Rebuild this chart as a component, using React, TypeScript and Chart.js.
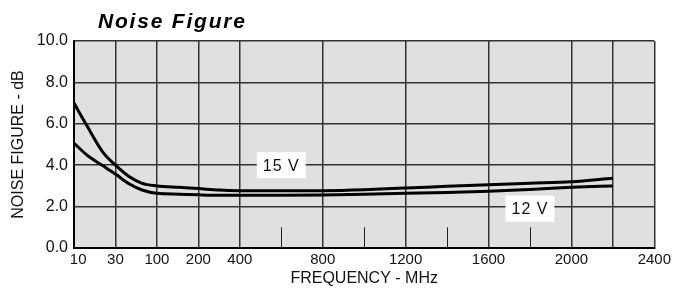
import React, { useEffect, useRef } from 'react';
import { Chart, registerables } from 'chart.js';

Chart.register(...registerables);

// ---- text ----
const chartTitle = 'Noise Figure';
const xAxisTitle = 'FREQUENCY - MHz';
const yAxisTitle = 'NOISE FIGURE - dB';

// ---- x axis definition (MHz) ----
const xBreakFreqs = [10, 30, 100, 200, 400]; // one division each
const linearStepMHz = 200; // beyond 400 MHz: 200 MHz per division
const xMaxFreq = 2400;
const xTickLabels = [10, 30, 100, 200, 400, 800, 1200, 1600, 2000, 2400];
const extraGridFreqs = [2200];
const shortMarkFreqs = [600, 1000, 1400, 1800];
const shortMarkTop = 1.0;

// ---- y axis ----
const yMin = 0;
const yMax = 10;
const yStep = 2;

// ---- series: 15 V ----
const freq15 = [10, 16, 24, 30, 53, 75, 100, 154, 200, 300, 400, 600, 800, 1000, 1200, 1400, 1600, 1800, 2000, 2200];
const nf15 = [7.0, 5.95, 4.62, 4.0, 3.45, 3.12, 3.0, 2.93, 2.87, 2.8, 2.77, 2.76, 2.77, 2.82, 2.9, 2.98, 3.06, 3.13, 3.2, 3.37];

// ---- series: 12 V ----
const freq12 = [10, 17, 24, 30, 53, 75, 100, 154, 200, 300, 400, 600, 800, 1000, 1200, 1400, 1600, 1800, 2000, 2200];
const nf12 = [5.06, 4.43, 3.97, 3.57, 3.1, 2.8, 2.64, 2.6, 2.57, 2.55, 2.55, 2.55, 2.56, 2.6, 2.64, 2.68, 2.74, 2.83, 2.93, 3.0];

// ---- curve labels ----
const curveLabels = ['15 V', '12 V'];
const curveLabelFreqs = [600, 1800];
const curveLabelNF = [4.0, 1.9];

function freqToPos(f: number): number {
  const n = xBreakFreqs.length;
  if (f >= xBreakFreqs[n - 1]) return n - 1 + (f - xBreakFreqs[n - 1]) / linearStepMHz;
  for (let i = 0; i < n - 1; i++) {
    if (f <= xBreakFreqs[i + 1]) {
      return i + (f - xBreakFreqs[i]) / (xBreakFreqs[i + 1] - xBreakFreqs[i]);
    }
  }
  return 0;
}
function posToFreq(p: number): number {
  const n = xBreakFreqs.length;
  if (p >= n - 1) return xBreakFreqs[n - 1] + (p - (n - 1)) * linearStepMHz;
  const i = Math.floor(p);
  return xBreakFreqs[i] + (p - i) * (xBreakFreqs[i + 1] - xBreakFreqs[i]);
}

const FONT = "'Liberation Sans', Arial, Helvetica, sans-serif";

const decorPlugin = {
  id: 'decor',
  beforeDraw(chart: any) {
    const { ctx, chartArea, width, height } = chart;
    ctx.save();
    ctx.fillStyle = '#ffffff';
    ctx.fillRect(0, 0, width, height);
    ctx.fillStyle = '#e0e0e0';
    ctx.fillRect(chartArea.left, chartArea.top, chartArea.right - chartArea.left, chartArea.bottom - chartArea.top);
    ctx.restore();
  },
  beforeDatasetsDraw(chart: any) {
    const { ctx } = chart;
    const xs = chart.scales.x;
    const ys = chart.scales.y;
    ctx.save();
    ctx.strokeStyle = '#222';
    ctx.lineWidth = 1;
    shortMarkFreqs.forEach((f) => {
      const px = Math.round(xs.getPixelForValue(freqToPos(f))) + 0.5;
      ctx.beginPath();
      ctx.moveTo(px, ys.getPixelForValue(yMin));
      ctx.lineTo(px, ys.getPixelForValue(shortMarkTop));
      ctx.stroke();
    });
    ctx.restore();
  },
  afterDatasetsDraw(chart: any) {
    const { ctx } = chart;
    const xs = chart.scales.x;
    const ys = chart.scales.y;
    ctx.save();
    ctx.font = `16px ${FONT}`;
    ctx.textAlign = 'center';
    ctx.textBaseline = 'middle';
    (ctx as any).letterSpacing = '1px';
    curveLabels.forEach((t, i) => {
      const cx = xs.getPixelForValue(freqToPos(curveLabelFreqs[i]));
      const cy = ys.getPixelForValue(curveLabelNF[i]);
      const w = ctx.measureText(t).width + 12;
      const h = 26;
      ctx.fillStyle = '#ffffff';
      ctx.fillRect(cx - w / 2, cy - h / 2, w, h);
      ctx.fillStyle = '#111';
      ctx.fillText(t, cx, cy + 1);
    });
    ctx.restore();
  },
  afterDraw(chart: any) {
    const { ctx, chartArea } = chart;
    ctx.save();
    ctx.font = `italic bold 21px ${FONT}`;
    (ctx as any).letterSpacing = '1.8px';
    ctx.fillStyle = '#000';
    ctx.textAlign = 'left';
    ctx.textBaseline = 'alphabetic';
    ctx.fillText(chartTitle, chartArea.left + 24, chartArea.top - 13);
    ctx.restore();
  },
};

export default function App() {
  const canvasRef = useRef<HTMLCanvasElement | null>(null);

  useEffect(() => {
    document.body.style.margin = '0';
    const canvas = canvasRef.current;
    if (!canvas) return;
    const gridColor = '#333333';
    const chart = new Chart(canvas, {
      type: 'line',
      data: {
        datasets: [
          {
            label: curveLabels[0],
            data: freq15.map((f, i) => ({ x: freqToPos(f), y: nf15[i] })),
            borderColor: '#000',
            borderWidth: 3,
            pointRadius: 0,
            cubicInterpolationMode: 'monotone',
            fill: false,
          },
          {
            label: curveLabels[1],
            data: freq12.map((f, i) => ({ x: freqToPos(f), y: nf12[i] })),
            borderColor: '#000',
            borderWidth: 3,
            pointRadius: 0,
            cubicInterpolationMode: 'monotone',
            fill: false,
          },
        ],
      },
      options: {
        animation: false,
        responsive: false,
        devicePixelRatio: 1,
        layout: { padding: { left: 0, right: 18, top: 41, bottom: 0 } },
        plugins: {
          legend: { display: false },
          tooltip: { enabled: false },
          title: { display: false },
        },
        scales: {
          x: {
            type: 'linear',
            min: 0,
            max: freqToPos(xMaxFreq),
            afterBuildTicks: (scale: any) => {
              const ticks = [];
              for (let p = 0; p <= freqToPos(xMaxFreq); p++) ticks.push({ value: p });
              scale.ticks = ticks;
            },
            afterFit: (scale: any) => {
              scale.height = 44;
            },
            ticks: {
              autoSkip: false,
              maxRotation: 0,
              padding: 3,
              color: '#111',
              font: { family: FONT, size: 15 },
              callback: (value: any) => {
                const f = Math.round(posToFreq(Number(value)));
                if (!xTickLabels.includes(f)) return '';
                return f === xTickLabels[0] ? '  ' + f : String(f);
              },
            },
            grid: {
              drawTicks: false,
              lineWidth: 1.5,
              color: (ctx: any) => {
                const f = Math.round(posToFreq(ctx.tick ? ctx.tick.value : 0));
                return xTickLabels.includes(f) || extraGridFreqs.includes(f) ? gridColor : 'rgba(0,0,0,0)';
              },
            },
            border: { color: '#000', width: 2 },
            title: {
              display: true,
              text: xAxisTitle,
              color: '#111',
              font: { family: FONT, size: 16 },
              padding: { top: 0, bottom: 4 },
            },
          },
          y: {
            type: 'linear',
            min: yMin,
            max: yMax,
            afterFit: (scale: any) => {
              scale.width = 74;
            },
            ticks: {
              stepSize: yStep,
              padding: 6,
              color: '#111',
              font: { family: FONT, size: 16 },
              callback: (value: any) => Number(value).toFixed(1),
            },
            grid: {
              drawTicks: false,
              lineWidth: 1.5,
              color: gridColor,
            },
            border: { color: '#000', width: 2 },
            title: {
              display: true,
              text: yAxisTitle,
              color: '#111',
              font: { family: FONT, size: 16 },
              padding: { top: 9, bottom: 0 },
            },
          },
        },
      },
      plugins: [decorPlugin],
    } as any);
    return () => chart.destroy();
  }, []);

  return (
    <div style={{ width: 674, height: 292 }}>
      <canvas ref={canvasRef} width={674} height={292} style={{ display: 'block' }} />
    </div>
  );
}
